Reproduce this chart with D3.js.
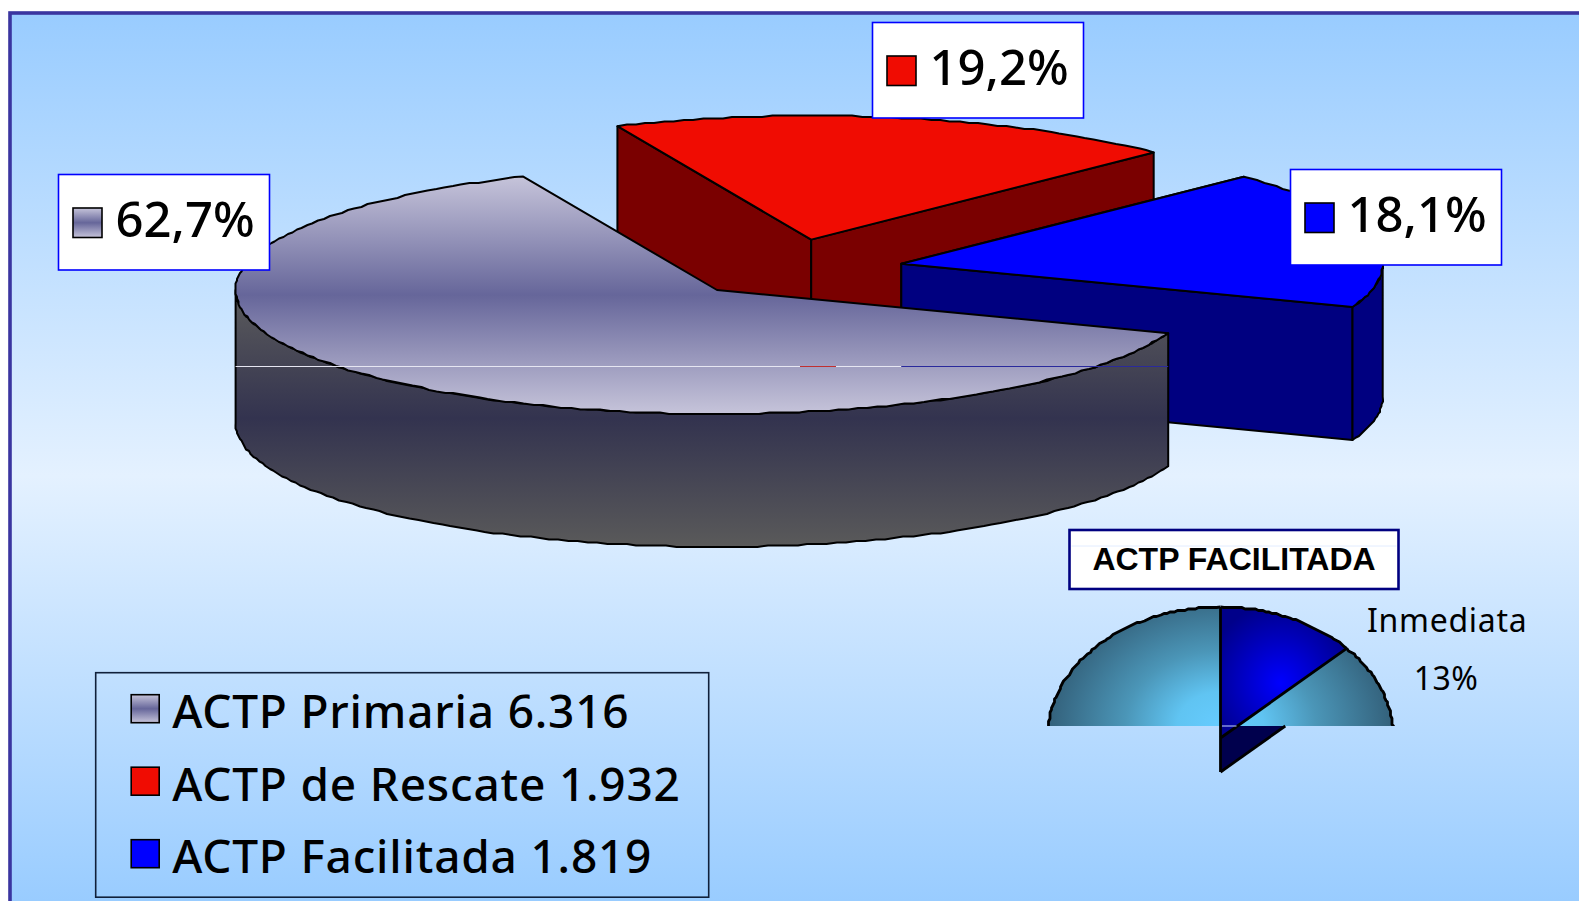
<!DOCTYPE html>
<html><head><meta charset="utf-8">
<script src="https://cdn.jsdelivr.net/npm/d3@7"></script>
<style>html,body{margin:0;padding:0;background:#fff;overflow:hidden}svg{display:block}</style>
</head><body><svg id="c" width="1579" height="901"></svg>
<script>
// ---- data ----
const categories = ["ACTP Primaria", "ACTP de Rescate", "ACTP Facilitada"];
const values = [6316, 1932, 1819];
const valueLabels = ["6.316", "1.932", "1.819"];
const percentLabels = ["62,7%", "19,2%", "18,1%"];
const insetTitle = "ACTP FACILITADA";
const insetCategories = ["Inmediata", "Resto"];
const insetValues = [13, 87];
const insetLabel = "13%";

// ---- layout ----
const W = 1579, H = 901;
const main = {cx:717, cy:290, rx:481.4, ry:123.9, depth:133, start:110.4*Math.PI/180};
const offsets = [[0,0],[94.2,-50.4],[184.3,-26.2]];
const wallFill = ["url(#wallG)", "#7a0000", "#000080"];
const topFill = ["url(#topG)", "#f00c02", "#0000ff"];
const swatchFill = ["url(#swG)", "#f00c02", "#0000ff"];
const labelBoxes = [[58.5,174.5],[872.5,22.5],[1290.5,169.5]];
const inset = {cx:1220.5, cy:738, rx:173.2, ry:131, depth:34, clipY:726};

const svg = d3.select("#c");
const defs = svg.append("defs");
function grad(id, x1, y1, x2, y2, stops){
  const g = defs.append("linearGradient").attr("id",id).attr("x1",x1).attr("y1",y1).attr("x2",x2).attr("y2",y2);
  if (id!=="swG") g.attr("gradientUnits","userSpaceOnUse");
  stops.forEach(s=>g.append("stop").attr("offset",s[0]).attr("stop-color",s[1]));
}
grad("bgG",0,15,0,H,[[0,"#99ccff"],[0.52,"#e4f1ff"],[1,"#99ccff"]]);
grad("topG",0,main.cy-main.ry+10,0,main.cy+main.ry,[[0,"#c6c4da"],[0.5,"#66669a"],[1,"#c6c4da"]]);
grad("wallG",0,main.cy,0,main.cy+main.ry+main.depth,[[0,"#5c5c5c"],[0.5,"#33334f"],[1,"#5a5a5a"]]);
grad("swG","0","0","0","1",[[0,"#c6c4da"],[0.5,"#66669a"],[1,"#c6c4da"]]);

// background panel
svg.append("rect").attr("width",W).attr("height",H).attr("fill","#fff");
svg.append("rect").attr("x",10).attr("y",13).attr("width",W+20).attr("height",H+20)
  .attr("fill","url(#bgG)").attr("stroke","#3a35a0").attr("stroke-width",3.6);

// ---- main pie through d3.pie + elliptical scales ----
const pieMain = d3.pie().sort(null).startAngle(main.start).endAngle(main.start+2*Math.PI)(values);
const sx = d3.scaleLinear().domain([-1,1]).range([main.cx-main.rx, main.cx+main.rx]);
const sy = d3.scaleLinear().domain([-1,1]).range([main.cy-main.ry, main.cy+main.ry]);
const line = d3.line();
const rim = (a,b,step)=>{ const n=Math.max(2,Math.ceil(Math.abs(b-a)/step)); return d3.range(n+1).map(i=>a+(b-a)*i/n); };
const STEP = 1.2*Math.PI/180;
const P = (a,dx,dy)=>[sx(Math.sin(a))+dx, sy(-Math.cos(a))+dy];
// the source is a low-resolution bitmap: its curved rims step on a coarse pixel grid
const GRID = 1.5;
const snapRim = pts => pts.map((p,i)=> (i===0||i===pts.length-1) ? p : [Math.round(p[0]/GRID)*GRID, Math.round(p[1]/GRID)*GRID]);

function drawSlice(d,i){
  const [dx,dy] = offsets[i];
  const g = svg.append("g").attr("stroke","#000").attr("stroke-width",2).attr("stroke-linejoin","round");
  const apex=[main.cx+dx, main.cy+dy];
  const apexB=[apex[0],apex[1]+main.depth];
  const a0=d.startAngle, a1=d.endAngle;
  const down = p=>[p[0],p[1]+main.depth];
  // radial walls
  [a0,a1].forEach(a=>{
    const p=P(a,dx,dy);
    if (i>0) g.append("path").attr("fill",wallFill[i])
      .attr("d",line([apex,p,down(p),apexB])+"Z");
  });
  // outer wall: the part of the rim facing the viewer, in either turn of the circle
  [[Math.PI/2,3*Math.PI/2],[Math.PI/2+2*Math.PI,3*Math.PI/2+2*Math.PI]].forEach(([r0,r1])=>{
    const u=Math.max(a0,r0), v=Math.min(a1,r1);
    if(v>u){
      const top=snapRim(rim(u,v,STEP).map(a=>P(a,dx,dy)));
      g.append("path").attr("fill",wallFill[i]).attr("d",line(top.concat(top.slice().reverse().map(down)))+"Z");
    }
  });
  // top face
  const arc=snapRim(rim(a0,a1,STEP).map(a=>P(a,dx,dy)));
  g.append("path").attr("fill",topFill[i]).attr("d",line([apex].concat(arc))+"Z");
}
// back-to-front: red, blue, gray
[1,2,0].forEach(i=>drawSlice(pieMain[i],i));

// thin bitmap seam that crosses the pie
const seamY=366.5;
[[sx(-1),800,"#e6e6f2"],[800,836,"#c03030"],[836,main.cx+offsets[2][0],"#e6e6f2"],[main.cx+offsets[2][0],P(pieMain[0].startAngle,0,0)[0],"#2a2a9c"]]
 .forEach(s=>svg.append("line").attr("x1",s[0]).attr("x2",s[1]).attr("y1",seamY).attr("y2",seamY).attr("stroke",s[2]).attr("stroke-width",1));

// ---- percent labels ----
const numFont="'Noto Sans', sans-serif";
percentLabels.forEach((t,i)=>{
  const [x,y]=labelBoxes[i];
  const g=svg.append("g").attr("transform",`translate(${x},${y})`);
  g.append("rect").attr("width",211).attr("height",95.5).attr("fill","#fff").attr("stroke","#0000ff").attr("stroke-width",1.6);
  g.append("rect").attr("x",14.5).attr("y",33.5).attr("width",29).attr("height",29.5).attr("fill",swatchFill[i]).attr("stroke","#000").attr("stroke-width",1.6);
  g.append("text").attr("x",57).attr("y",62.5).attr("font-family",numFont).attr("font-size",49).attr("font-weight",500).text(t);
});

// ---- legend ----
const legend=svg.append("g").attr("transform","translate(95.7,672.7)");
legend.append("rect").attr("width",613).attr("height",224.5).attr("fill","none").attr("stroke","#10203a").attr("stroke-width",1.6);
const legendY=d3.scalePoint().domain(categories).range([36,181]);
categories.forEach((c,i)=>{
  const y=legendY(c);
  legend.append("rect").attr("x",35.5).attr("y",y-14).attr("width",28).attr("height",28).attr("fill",swatchFill[i]).attr("stroke","#000").attr("stroke-width",1.6);
  legend.append("text").attr("x",76.5).attr("y",y+19.5).attr("font-family",numFont).attr("font-size",46).attr("font-weight",500).attr("letter-spacing",0.8).text(c+" "+valueLabels[i]);
});

// ---- inset title ----
const tb=svg.append("g").attr("transform","translate(1069.5,530)");
tb.append("rect").attr("width",329).attr("height",59).attr("fill","#fff").attr("stroke","#000080").attr("stroke-width",2.6);
tb.append("line").attr("x1",2).attr("x2",327).attr("y1",16).attr("y2",16).attr("stroke","#e2ecff");
tb.append("text").attr("x",164.5).attr("y",40).attr("text-anchor","middle").attr("font-family","'Liberation Sans',Arial,sans-serif").attr("font-weight",700).attr("font-size",32).attr("fill","#000").text(insetTitle);

// ---- inset pie ----
defs.append("clipPath").attr("id","insetClip").append("rect").attr("x",0).attr("y",0).attr("width",W).attr("height",inset.clipY);
const rg1=defs.append("radialGradient").attr("id","tealG").attr("gradientUnits","userSpaceOnUse")
  .attr("cx",0).attr("cy",0).attr("r",1).attr("gradientTransform",`translate(${inset.cx},${inset.clipY}) scale(${inset.rx},${inset.ry+6})`);
[[0,"#66ccff"],[0.25,"#60c4f2"],[0.55,"#4b96b8"],[1,"#33607a"]].forEach(s=>rg1.append("stop").attr("offset",s[0]).attr("stop-color",s[1]));
const rg2=defs.append("radialGradient").attr("id","insetBlue").attr("gradientUnits","userSpaceOnUse")
  .attr("cx",0).attr("cy",0).attr("r",1).attr("gradientTransform",`translate(${inset.cx+60},${inset.cy-55}) scale(75,80)`);
[[0,"#0000ff"],[1,"#00008a"]].forEach(s=>rg2.append("stop").attr("offset",s[0]).attr("stop-color",s[1]));

const pieInset=d3.pie().sort(null)(insetValues);
const ix=d3.scaleLinear().domain([-1,1]).range([inset.cx-inset.rx,inset.cx+inset.rx]);
const iy=d3.scaleLinear().domain([-1,1]).range([inset.cy-inset.ry,inset.cy+inset.ry]);
const IP=a=>[ix(Math.sin(a)),iy(-Math.cos(a))];
const iApex=[inset.cx,inset.cy];
const ig=svg.append("g").attr("stroke","#000").attr("stroke-width",2.8).attr("stroke-linejoin","round");
// extruded wall of the inmediata slice, only visible below the clip line
const pEnd=IP(pieInset[0].endAngle);
defs.append("clipPath").attr("id","wallClip").append("rect").attr("x",inset.cx).attr("y",inset.clipY).attr("width",W).attr("height",H);
ig.append("path").attr("fill","#00004d").attr("stroke","none").attr("clip-path","url(#wallClip)")
  .attr("d",line([iApex,[iApex[0],iApex[1]+inset.depth],[pEnd[0],pEnd[1]+inset.depth],pEnd])+"Z");
const clipped=ig.append("g").attr("clip-path","url(#insetClip)");
// rest slice
const restArc=snapRim(rim(pieInset[1].startAngle,pieInset[1].endAngle,STEP).map(IP));
clipped.append("path").attr("fill","url(#tealG)").attr("stroke","none").attr("d",line([iApex].concat(restArc))+"Z");
clipped.append("path").attr("fill","none").attr("d",line(restArc));
// inmediata slice top
const blueArc=snapRim(rim(pieInset[0].startAngle,pieInset[0].endAngle,STEP).map(IP));
ig.append("path").attr("fill","url(#insetBlue)").attr("stroke","none").attr("d",line([iApex].concat(blueArc))+"Z");
ig.append("path").attr("fill","none").attr("d",line(blueArc));
// edges
ig.append("path").attr("fill","none").attr("d",line([pEnd,iApex]));
ig.append("path").attr("fill","none").attr("d",line([IP(0),[inset.cx,inset.cy+inset.depth]]));
const slope=(pEnd[1]-iApex[1])/(pEnd[0]-iApex[0]);
ig.append("path").attr("fill","none").attr("d",line([[inset.cx,inset.cy+inset.depth],[inset.cx+(inset.clipY-inset.cy-inset.depth)/slope,inset.clipY]]));
svg.append("line").attr("x1",inset.cx+1.5).attr("x2",inset.cx+16).attr("y1",inset.clipY).attr("y2",inset.clipY).attr("stroke","#c8d8ff").attr("stroke-width",1);

svg.append("text").attr("x",1367).attr("y",632).attr("font-family",numFont).attr("font-size",32).attr("letter-spacing",0.7).text(insetCategories[0]);
svg.append("text").attr("x",1446).attr("y",690).attr("text-anchor","middle").attr("font-family",numFont).attr("font-size",32).attr("letter-spacing",0.5).text(insetLabel);
</script></body></html>
